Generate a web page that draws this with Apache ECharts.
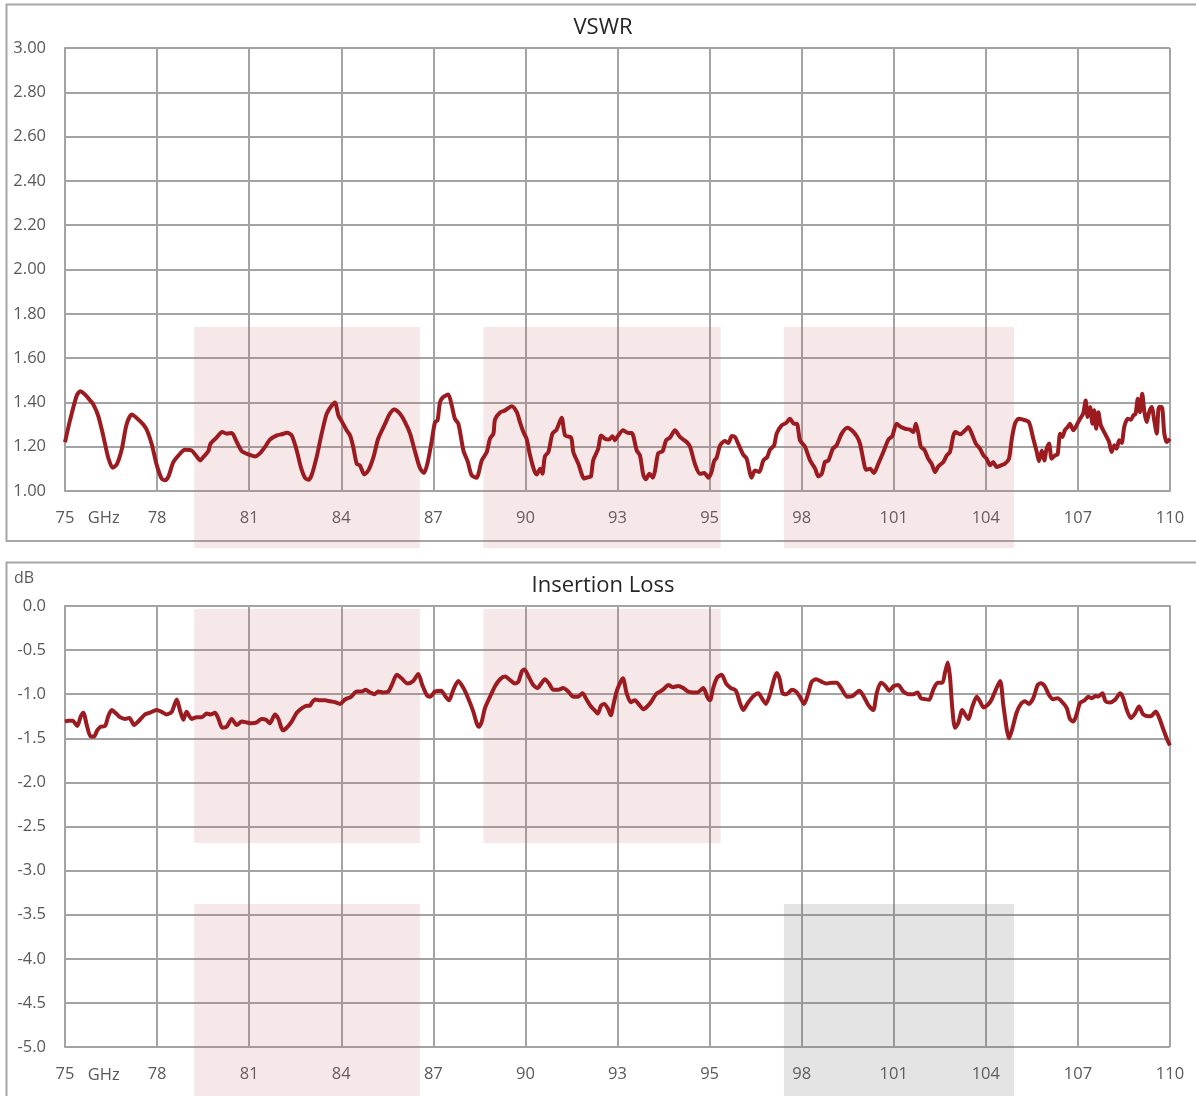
<!DOCTYPE html>
<html>
<head>
<meta charset="utf-8">
<script src="https://cdn.jsdelivr.net/npm/echarts@6/dist/echarts.min.js"></script>
<style>
html,body{margin:0;padding:0;background:#fff;}
#c{width:1196px;height:1096px;}
</style>
</head>
<body>
<div id="c"></div>
<script>
// ---- tick labels (12 equal divisions, labels as printed on the chart) ----
const xTickLabels = ['75','78','81','84','87','90','93','95','98','101','104','107','110'];
const xUnitLabel = 'GHz';
const xUnitLabelTick = 0.42;

// ---- VSWR series ----
const vswrFreqGHz = [
75.00,75.16,75.37,75.48,75.60,75.79,75.90,76.05,76.21,76.37,76.51,76.64,76.80,76.95,77.11,77.27,77.48,77.61,77.75,77.90,
78.06,78.17,78.27,78.43,78.59,78.80,79.01,79.15,79.28,79.38,79.54,79.61,79.80,79.98,80.12,80.28,80.44,80.60,80.81,81.02,
81.18,81.33,81.49,81.71,81.86,82.04,82.18,82.34,82.47,82.60,82.71,82.81,82.97,83.13,83.29,83.45,83.55,83.66,83.78,83.92,
84.03,84.13,84.24,84.34,84.48,84.61,84.77,84.92,85.14,85.29,85.43,85.61,85.77,85.93,86.09,86.24,86.37,86.49,86.61,86.72,
86.80,86.88,86.98,87.14,87.25,87.35,87.46,87.62,87.76,87.88,88.04,88.11,88.20,88.36,88.46,88.57,88.62,88.78,88.94,89.15,
89.31,89.41,89.52,89.62,89.73,89.86,89.94,90.05,90.12,90.20,90.31,90.44,90.57,90.73,90.84,91.03,91.10,91.26,91.45,91.58,
91.66,91.73,91.89,91.98,92.10,92.23,92.34,92.42,92.49,92.68,92.84,92.95,93.11,93.21,93.32,93.40,93.51,93.62,93.69,93.79,
93.93,94.04,94.16,94.32,94.48,94.69,94.80,94.95,95.11,95.25,95.38,95.48,95.56,95.64,95.75,95.90,96.01,96.12,96.22,96.33,
96.48,96.59,96.75,96.85,96.99,97.12,97.24,97.33,97.46,97.54,97.70,97.84,97.96,98.09,98.18,98.28,98.44,98.60,98.76,98.86,
98.97,99.07,99.18,99.32,99.44,99.60,99.78,99.92,100.08,100.18,100.29,100.37,100.50,100.62,100.76,100.92,101.08,101.20,101.34,101.48,
101.61,101.76,101.87,101.95,102.03,102.11,102.22,102.34,102.45,102.56,102.66,102.82,102.93,103.03,103.14,103.21,103.35,103.51,103.61,103.72,
103.85,103.98,104.09,104.19,104.30,104.40,104.51,104.65,104.77,104.90,104.99,105.09,105.20,105.35,105.53,105.67,105.78,105.85,105.94,106.02,
106.09,106.17,106.25,106.36,106.44,106.52,106.59,106.67,106.76,106.83,106.94,107.04,107.15,107.25,107.33,107.39,107.47,107.54,107.60,107.66,
107.73,107.81,107.94,108.07,108.15,108.24,108.31,108.39,108.47,108.55,108.66,108.76,108.84,108.91,108.98,109.05,109.12,109.19,109.26,109.34,
109.42,109.50,109.58,109.65,109.74,109.82,109.90,110.00
];
const vswrValues = [
1.22,1.32,1.43,1.45,1.44,1.41,1.39,1.34,1.25,1.15,1.105,1.12,1.19,1.30,1.345,1.33,1.30,1.27,1.21,1.12,
1.056,1.048,1.063,1.13,1.16,1.186,1.183,1.16,1.138,1.153,1.18,1.214,1.241,1.266,1.259,1.262,1.221,1.18,1.165,1.156,
1.171,1.198,1.232,1.251,1.256,1.263,1.251,1.183,1.108,1.06,1.051,1.071,1.153,1.259,1.349,1.386,1.40,1.341,1.311,1.274,
1.251,1.199,1.123,1.116,1.075,1.093,1.153,1.236,1.304,1.349,1.368,1.349,1.311,1.259,1.176,1.105,1.081,1.131,1.221,1.311,
1.319,1.402,1.424,1.436,1.386,1.326,1.304,1.183,1.131,1.071,1.06,1.086,1.138,1.176,1.236,1.259,1.322,1.354,1.364,1.383,
1.356,1.311,1.266,1.236,1.161,1.093,1.075,1.101,1.078,1.156,1.176,1.259,1.277,1.331,1.251,1.241,1.176,1.123,1.056,1.063,
1.066,1.138,1.191,1.251,1.236,1.232,1.247,1.229,1.244,1.274,1.262,1.262,1.183,1.161,1.071,1.053,1.078,1.06,1.093,1.171,
1.18,1.229,1.241,1.274,1.244,1.221,1.199,1.123,1.078,1.081,1.06,1.086,1.135,1.15,1.206,1.226,1.217,1.248,1.244,1.211,
1.165,1.146,1.06,1.093,1.086,1.138,1.153,1.186,1.206,1.259,1.296,1.307,1.326,1.304,1.304,1.229,1.199,1.138,1.101,1.066,
1.078,1.131,1.138,1.191,1.206,1.259,1.286,1.274,1.247,1.214,1.138,1.096,1.101,1.081,1.123,1.176,1.232,1.247,1.304,1.289,
1.281,1.277,1.266,1.304,1.259,1.199,1.186,1.146,1.123,1.086,1.111,1.131,1.161,1.176,1.251,1.266,1.256,1.274,1.289,1.259,
1.214,1.191,1.161,1.146,1.116,1.131,1.108,1.116,1.123,1.146,1.236,1.304,1.326,1.322,1.311,1.236,1.176,1.135,1.183,1.138,
1.191,1.214,1.146,1.161,1.165,1.259,1.244,1.274,1.289,1.304,1.274,1.296,1.326,1.349,1.409,1.334,1.379,1.304,1.364,1.281,
1.356,1.296,1.259,1.221,1.176,1.206,1.191,1.229,1.217,1.289,1.326,1.322,1.341,1.349,1.417,1.356,1.439,1.356,1.311,1.356,
1.379,1.319,1.259,1.379,1.379,1.259,1.221,1.236
];

// ---- Insertion loss series ----
const ilFreqGHz = [
75.00,75.10,75.24,75.39,75.50,75.58,75.69,75.81,75.92,76.02,76.13,76.27,76.37,76.48,76.62,76.74,76.90,77.04,77.19,77.32,
77.53,77.69,77.90,78.06,78.22,78.38,78.54,78.64,78.75,78.85,79.01,79.17,79.33,79.49,79.61,79.75,79.86,79.98,80.12,80.28,
80.44,80.60,80.76,80.91,81.07,81.23,81.37,81.49,81.65,81.76,81.90,82.02,82.18,82.34,82.50,82.66,82.76,82.81,82.92,83.08,
83.24,83.39,83.55,83.71,83.87,84.06,84.24,84.40,84.52,84.66,84.80,84.92,85.08,85.24,85.37,85.51,85.66,85.85,86.03,86.19,
86.32,86.46,86.56,86.72,86.91,87.04,87.16,87.30,87.46,87.62,87.77,87.93,88.04,88.11,88.20,88.30,88.46,88.62,88.78,88.94,
89.10,89.25,89.36,89.47,89.55,89.67,89.83,89.97,90.08,90.20,90.33,90.47,90.63,90.78,90.94,91.10,91.24,91.39,91.52,91.66,
91.77,91.87,91.98,92.08,92.19,92.29,92.37,92.49,92.67,92.79,92.92,93.05,93.19,93.32,93.44,93.58,93.72,93.85,93.97,94.11,
94.25,94.43,94.58,94.74,94.90,95.03,95.22,95.34,95.43,95.53,95.66,95.80,95.94,96.09,96.25,96.38,96.48,96.61,96.78,96.96,
97.07,97.20,97.33,97.46,97.54,97.63,97.73,97.86,98.02,98.15,98.28,98.41,98.54,98.65,98.79,98.97,99.13,99.28,99.44,99.60,
99.78,99.95,100.16,100.29,100.44,100.60,100.71,100.84,100.97,101.11,101.24,101.39,101.55,101.71,101.87,102.00,102.11,102.24,102.37,102.50,
102.64,102.79,102.87,102.96,103.03,103.10,103.19,103.29,103.42,103.51,103.61,103.74,103.88,103.98,104.09,104.23,104.35,104.48,104.62,104.72,
104.83,104.90,105.00,105.14,105.28,105.41,105.53,105.67,105.81,105.91,106.04,106.17,106.30,106.44,106.57,106.73,106.83,106.94,107.04,107.15,
107.29,107.41,107.52,107.65,107.73,107.86,107.96,108.10,108.26,108.42,108.52,108.63,108.76,108.89,109.02,109.15,109.31,109.42,109.55,109.65,
109.79,109.93,110.00
];
const ilValues = [
-1.31,-1.30,-1.30,-1.36,-1.25,-1.21,-1.35,-1.48,-1.48,-1.41,-1.37,-1.36,-1.25,-1.18,-1.22,-1.26,-1.28,-1.27,-1.35,-1.31,
-1.23,-1.21,-1.18,-1.20,-1.23,-1.20,-1.06,-1.18,-1.29,-1.20,-1.28,-1.26,-1.26,-1.22,-1.23,-1.21,-1.28,-1.38,-1.37,-1.28,
-1.35,-1.31,-1.32,-1.33,-1.32,-1.28,-1.29,-1.33,-1.23,-1.28,-1.41,-1.38,-1.31,-1.21,-1.16,-1.13,-1.13,-1.10,-1.06,-1.07,
-1.07,-1.08,-1.09,-1.11,-1.06,-1.03,-0.97,-0.97,-0.95,-0.98,-1.00,-0.97,-0.98,-0.97,-0.88,-0.78,-0.82,-0.88,-0.85,-0.77,
-0.90,-1.01,-1.03,-0.97,-0.96,-1.02,-1.07,-0.95,-0.85,-0.93,-1.045,-1.195,-1.33,-1.37,-1.31,-1.16,-1.03,-0.91,-0.83,-0.80,
-0.84,-0.88,-0.86,-0.74,-0.72,-0.79,-0.895,-0.93,-0.88,-0.83,-0.88,-0.95,-0.95,-0.93,-0.97,-1.03,-1.03,-0.99,-1.06,-1.14,
-1.18,-1.22,-1.13,-1.11,-1.16,-1.24,-1.12,-0.95,-0.82,-0.99,-1.09,-1.07,-1.12,-1.17,-1.14,-1.08,-1.00,-0.97,-0.94,-0.895,
-0.92,-0.906,-0.93,-0.97,-0.98,-0.98,-0.93,-1.03,-1.07,-0.93,-0.81,-0.78,-0.88,-0.93,-0.96,-1.10,-1.18,-1.11,-1.03,-0.99,
-1.045,-1.11,-1.00,-0.83,-0.76,-0.82,-0.99,-1.00,-0.95,-0.97,-1.03,-1.11,-0.99,-0.86,-0.83,-0.86,-0.88,-0.87,-0.87,-0.94,
-1.03,-1.02,-0.96,-1.02,-1.12,-1.18,-0.99,-0.87,-0.90,-0.96,-0.91,-0.895,-0.97,-1.00,-1.00,-0.98,-1.045,-1.056,-1.064,-0.95,
-0.87,-0.87,-0.76,-0.64,-0.80,-1.14,-1.38,-1.33,-1.18,-1.23,-1.28,-1.14,-1.03,-1.08,-1.15,-1.12,-1.06,-0.95,-0.85,-1.12,
-1.40,-1.50,-1.40,-1.21,-1.11,-1.08,-1.11,-1.045,-0.895,-0.876,-0.914,-1.01,-1.056,-1.045,-1.083,-1.158,-1.28,-1.31,-1.23,-1.10,
-1.07,-1.03,-1.045,-1.02,-1.026,-0.99,-1.08,-1.094,-1.064,-0.99,-1.045,-1.177,-1.27,-1.22,-1.14,-1.23,-1.25,-1.244,-1.195,-1.26,
-1.40,-1.53,-1.58
];

// ---- shaded frequency bands (GHz) and their value spans ----
const vswrBandsGHz = [[79.09, 86.24], [88.25, 95.77], [97.77, 105.06]];
const vswrBandSpan = [0.743, 1.74];
const ilUpperBandsGHz = [[79.09, 86.24], [88.25, 95.77]];
const ilUpperBandSpan = [-2.687, -0.034];
const ilLowerPinkBandsGHz = [[79.09, 86.24]];
const ilLowerGreyBandsGHz = [[97.77, 105.06]];
const ilLowerBandSpan = [-5.7, -3.379];

// ---- styling ----
const FONT = 'Open Sans, Liberation Sans, sans-serif';
const TXT = '#595959';
const GRIDC = '#a3a3a3';
const LINEC = '#9b1b20';
const PINK = 'rgba(196,110,118,0.16)';
const GREY = 'rgba(110,110,110,0.19)';

const chart = echarts.init(document.getElementById('c'), null, {renderer: 'canvas'});

function labelAxis(gridIndex) {
  return {
    type: 'value', gridIndex: gridIndex, min: 0, max: 12, interval: 1,
    axisLine: {show: true, lineStyle: {color: GRIDC, width: 2}},
    axisTick: {show: false},
    splitLine: {show: true, lineStyle: {color: GRIDC, width: 2}},
    axisLabel: {
      color: TXT, fontFamily: FONT, fontSize: 16.5, margin: 19,
      formatter: function (v) { return xTickLabels[Math.round(v)]; }
    }
  };
}
function dataAxis(gridIndex) {
  return {type: 'value', gridIndex: gridIndex, min: 75, max: 110, show: false,
          splitLine: {show: false}};
}

chart.setOption({
  animation: false,
  backgroundColor: '#ffffff',
  grid: [
    {left: 65, top: 48, width: 1105, height: 443, containLabel: false},
    {left: 65, top: 606, width: 1105, height: 441, containLabel: false}
  ],
  xAxis: [labelAxis(0), dataAxis(0), labelAxis(1), dataAxis(1)],
  yAxis: [
    {type: 'value', gridIndex: 0, min: 1, max: 3, interval: 0.2,
     axisLine: {show: true, lineStyle: {color: GRIDC, width: 2}}, axisTick: {show: false},
     splitLine: {show: true, lineStyle: {color: GRIDC, width: 2}},
     axisLabel: {color: TXT, fontFamily: FONT, fontSize: 16.5, margin: 19,
                 formatter: function (v) { return v.toFixed(2); }}},
    {type: 'value', gridIndex: 1, min: -5, max: 0, interval: 0.5,
     axisLine: {show: true, lineStyle: {color: GRIDC, width: 2}}, axisTick: {show: false},
     splitLine: {show: true, lineStyle: {color: GRIDC, width: 2}},
     axisLabel: {color: TXT, fontFamily: FONT, fontSize: 16.5, margin: 19,
                 formatter: function (v) { return v.toFixed(1); }}}
  ],
  series: [
    {type: 'line', name: 'VSWR', xAxisIndex: 1, yAxisIndex: 0, showSymbol: false, smooth: 0.25,
     lineStyle: {color: LINEC, width: 4}, itemStyle: {color: LINEC}, z: 5,
     data: vswrFreqGHz.map(function (f, i) { return [f, vswrValues[i]]; })},
    {type: 'line', name: 'Insertion Loss', xAxisIndex: 3, yAxisIndex: 1, showSymbol: false, smooth: 0.25,
     lineStyle: {color: LINEC, width: 4}, itemStyle: {color: LINEC}, z: 5,
     data: ilFreqGHz.map(function (f, i) { return [f, ilValues[i]]; })}
  ]
});

// ---- overlays positioned through the axes' scales ----
function bandRects(bands, span, xAxisIndex, yAxisIndex, fill) {
  return bands.map(function (b) {
    const x0 = chart.convertToPixel({xAxisIndex: xAxisIndex}, b[0]);
    const x1 = chart.convertToPixel({xAxisIndex: xAxisIndex}, b[1]);
    const yTop = chart.convertToPixel({yAxisIndex: yAxisIndex}, span[1]);
    const yBot = chart.convertToPixel({yAxisIndex: yAxisIndex}, span[0]);
    return {type: 'rect', z: 1, silent: true,
            shape: {x: x0, y: yTop, width: x1 - x0, height: yBot - yTop},
            style: {fill: fill}};
  });
}

const topAxisY = chart.convertToPixel({yAxisIndex: 0}, 1);
const botAxisY = chart.convertToPixel({yAxisIndex: 1}, -5);
const ghzX = chart.convertToPixel({xAxisIndex: 0}, xUnitLabelTick);
const panelCenterX = 603;

const graphics = [
  {type: 'rect', z: 0, silent: true, shape: {x: 6.5, y: 4.5, width: 1250, height: 536.5},
   style: {fill: null, stroke: '#a6a6a6', lineWidth: 2}},
  {type: 'rect', z: 0, silent: true, shape: {x: 6.5, y: 562.5, width: 1250, height: 600},
   style: {fill: null, stroke: '#a6a6a6', lineWidth: 2}},
  {type: 'text', z: 3, silent: true, x: panelCenterX, y: 28,
   style: {text: 'VSWR', fill: '#262626', font: '22px ' + FONT, textAlign: 'center', textVerticalAlign: 'middle'}},
  {type: 'text', z: 3, silent: true, x: panelCenterX, y: 586,
   style: {text: 'Insertion Loss', fill: '#262626', font: '22px ' + FONT, textAlign: 'center', textVerticalAlign: 'middle'}},
  {type: 'text', z: 3, silent: true, x: 14, y: 578,
   style: {text: 'dB', fill: TXT, font: '16px ' + FONT, textAlign: 'left', textVerticalAlign: 'middle'}},
  {type: 'text', z: 3, silent: true, x: ghzX, y: topAxisY + 27,
   style: {text: xUnitLabel, fill: TXT, font: '16.5px ' + FONT, textAlign: 'center', textVerticalAlign: 'middle'}},
  {type: 'text', z: 3, silent: true, x: ghzX, y: botAxisY + 28,
   style: {text: xUnitLabel, fill: TXT, font: '16.5px ' + FONT, textAlign: 'center', textVerticalAlign: 'middle'}}
]
  .concat(bandRects(vswrBandsGHz, vswrBandSpan, 1, 0, PINK))
  .concat(bandRects(ilUpperBandsGHz, ilUpperBandSpan, 3, 1, PINK))
  .concat(bandRects(ilLowerPinkBandsGHz, ilLowerBandSpan, 3, 1, PINK))
  .concat(bandRects(ilLowerGreyBandsGHz, ilLowerBandSpan, 3, 1, GREY));

chart.setOption({graphic: graphics});
</script>
</body>
</html>
